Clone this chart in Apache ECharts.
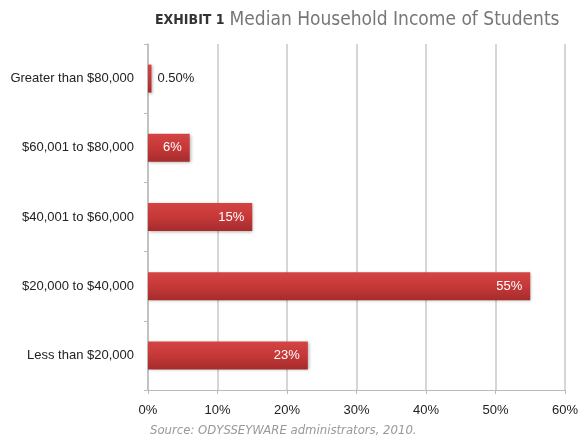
<!DOCTYPE html>
<html lang="en" style="height:100%">
<head>
    <meta charset="UTF-8">
    <title>Median Household Income of Students</title>
</head>
<body style="height: 100%; margin: 0; background:#fff">
<div id="container" style="width:581px; height:444px"></div>
<script type="text/javascript" src="https://cdn.jsdelivr.net/npm/echarts@6/dist/echarts.min.js"></script>
<script type="text/javascript">
    // bottom to top, as echarts category axis draws them
    var categories = ['Less than $20,000', '$20,000 to $40,000', '$40,001 to $60,000', '$60,001 to $80,000', 'Greater than $80,000'];
    var values = [23, 55, 15, 6, 0.5];
    var valueLabels = ['23%', '55%', '15%', '6%', '0.50%'];
    var xTicks = [0, 10, 20, 30, 40, 50, 60];

    var narrow = '"DejaVu Sans Condensed", "Roboto Condensed", Roboto, sans-serif';

    var dom = document.getElementById("container");
    var myChart = echarts.init(dom);

    var barData = [];
    for (var i = 0; i < values.length; i++) {
        var small = values[i] < 3;
        barData.push({
            value: values[i],
            label: {
                position: small ? 'right' : 'insideRight',
                color: small ? '#222' : '#fff',
                distance: small ? 6 : 8
            }
        });
    }

    var option = {
        backgroundColor: '#fff',
        animation: false,
        title: {
            text: '{a|EXHIBIT 1} {b|Median Household Income of Students}',
            left: 150,
            top: 6,
            textStyle: {
                fontWeight: 'normal',
                rich: {
                    a: { fontFamily: narrow, fontWeight: 'bold', fontSize: 14, color: '#333' },
                    b: { fontFamily: narrow, fontWeight: 'normal', fontSize: 19, color: '#777' }
                }
            }
        },
        graphic: [{
            type: 'text',
            left: 150,
            top: 424,
            style: {
                text: 'Source: ODYSSEYWARE administrators, 2010.',
                font: 'italic 13px ' + narrow,
                fill: '#999'
            }
        }],
        grid: { left: 148, right: 14, top: 44, bottom: 54 },
        xAxis: {
            type: 'value',
            min: xTicks[0],
            max: xTicks[xTicks.length - 1],
            interval: 10,
            axisLine: { show: true, lineStyle: { color: '#bbb', width: 1 } },
            axisTick: { show: true, length: 4, lineStyle: { color: '#bbb' } },
            splitLine: { show: true, lineStyle: { color: '#c8c8c8', width: 1.5 } },
            axisLabel: {
                formatter: '{value}%',
                color: '#222',
                fontFamily: 'Liberation Sans',
                fontSize: 13,
                margin: 14
            }
        },
        yAxis: {
            type: 'category',
            data: categories,
            axisLine: { show: true, lineStyle: { color: '#bbb', width: 1.5 } },
            axisTick: { show: true, length: 4, lineStyle: { color: '#bbb' } },
            axisLabel: {
                color: '#222',
                fontFamily: 'Liberation Sans',
                fontSize: 13,
                margin: 14
            }
        },
        series: [{
            type: 'bar',
            data: barData,
            barWidth: 28,
            itemStyle: {
                color: new echarts.graphic.LinearGradient(0, 0, 0, 1, [
                    { offset: 0, color: '#d44444' },
                    { offset: 0.5, color: '#c63838' },
                    { offset: 1, color: '#a52c2c' }
                ]),
                shadowColor: 'rgba(0,0,0,0.3)',
                shadowBlur: 3,
                shadowOffsetX: 1,
                shadowOffsetY: 1
            },
            label: {
                show: true,
                fontFamily: 'Liberation Sans',
                fontSize: 13,
                formatter: function (p) { return valueLabels[p.dataIndex]; }
            }
        }]
    };

    myChart.setOption(option, true);
</script>
</body>
</html>
